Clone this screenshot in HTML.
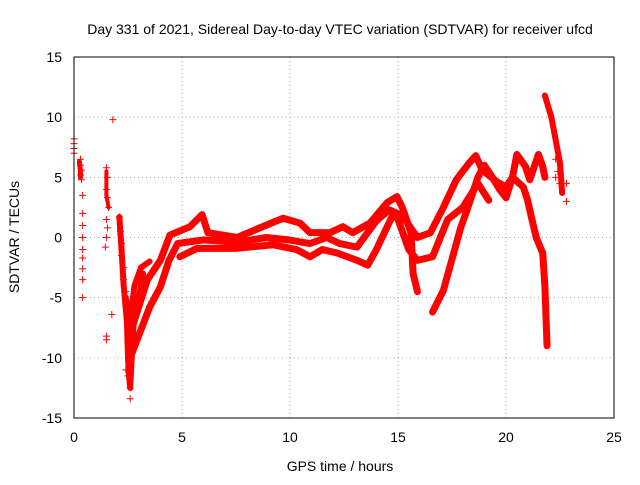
<!DOCTYPE html>
<html><head><meta charset="utf-8"><style>
body{margin:0;background:#fff;font-family:"Liberation Sans",sans-serif}
svg text{font-family:"Liberation Sans",sans-serif;font-size:14px;fill:#000}
</style></head><body>
<svg width="640" height="480">
<rect width="640" height="480" fill="#fff"/>
<g id="grid"></g>
<g id="series"></g>
<rect x="74" y="57" width="540" height="361" fill="none" stroke="#000"/>
<g id="ticks"></g>
<text x="340" y="34" text-anchor="middle">Day 331 of 2021, Sidereal Day-to-day VTEC variation (SDTVAR) for receiver ufcd</text>
<text x="340" y="471" text-anchor="middle">GPS time / hours</text>
<text transform="translate(19,237) rotate(-90)" text-anchor="middle">SDTVAR / TECUs</text>
</svg>
<script>
const xTicks=[0,5,10,15,20,25];
const yTicks=[-15,-10,-5,0,5,10,15];
const trackA=[[2.6,-8],[3.4,-3.5],[4,-1.9],[4.44,0.2],[5.37,0.9],[5.93,1.9],[6.2,0.4],[7.55,0],[8.6,0.8],[9.68,1.6],[10.46,1.2],[10.93,0.4],[11.85,0.4],[12.45,0.9],[12.9,0.4],[13.7,1.2],[14.5,2.9],[14.95,3.4],[15.2,2.5],[15.6,0.4],[15.7,-3],[15.9,-4.5]];
const trackB=[[2.6,-10],[3.5,-5.8],[4,-4.1],[4.4,-1.9],[4.8,-0.5],[6,-0.2],[7.55,-0.4],[8.9,0],[9.94,-0.2],[10.93,-0.5],[11.7,0],[12.3,-0.5],[13.1,-0.8],[14,1.4],[14.6,2.3],[15.2,1.8],[15.9,0],[16.5,0.4],[17.1,2.5],[17.7,4.8],[18.3,6.2],[18.6,6.8],[18.9,5.6],[19.6,4.6],[20,4.2],[20.3,5],[20.8,4.2],[21,3.1],[21.2,1.5],[21.4,0],[21.7,-1.3],[21.8,-4],[21.9,-9]];
const trackC=[[4.9,-1.6],[5.7,-0.9],[7.55,-0.9],[9.2,-0.6],[10.3,-1],[10.93,-1.6],[11.5,-1],[12.2,-1.3],[13.1,-1.9],[13.6,-2.3],[14,-1],[14.5,0.9],[14.8,2],[15,1.5],[15.5,-1],[15.9,-1.9],[16.6,-1.6],[17.3,1.5],[18,2.5],[18.7,4.5],[19.2,3.1]];
const trackD=[[16.6,-6.2],[17.1,-4.4],[17.9,0.8],[18.2,2.3],[18.7,5],[19,6],[19.3,5.2],[19.7,4],[20,3.3],[20.3,5],[20.5,6.9],[20.9,5.9],[21.1,4.8],[21.5,6.9],[21.7,5.9],[21.8,5]];
const trackE=[[21.8,11.8],[22.1,10],[22.3,8.1],[22.5,6.2],[22.6,3.7]];
const trackV=[[2.1,1.7],[2.2,-1],[2.3,-4],[2.45,-7],[2.5,-10],[2.55,-11.5],[2.6,-12.5],[2.7,-9],[2.8,-6],[3,-5],[3.2,-3]];
const trackV2=[[2.4,-5],[2.6,-7],[2.8,-4],[3.1,-2.5],[3.5,-2]];
const trackEarly=[[0.25,6.3],[0.3,5.5],[0.3,5]];
const trackEarly2=[[1.5,5.5],[1.5,3.5],[1.6,2.5]];
const scatterPts=[[0,8.2],[0,7.8],[0,7.4],[0,7],[0.3,6.5],[0.3,6],[0.35,5.6],[0.3,5.2],[0.35,4.8],[0.4,3.5],[0.4,2],[0.4,1],[0.4,0],[0.4,-1],[0.4,-1.7],[0.4,-2.6],[0.4,-3.5],[0.4,-5],[1.5,5.8],[1.55,5],[1.5,4],[1.55,3.3],[1.6,2.5],[1.5,1.5],[1.55,0.8],[1.5,0],[1.45,-0.8],[1.8,9.8],[1.75,-6.4],[1.5,-8.2],[1.5,-8.5],[2.1,1.7],[2.15,0.5],[2.2,-0.5],[2.2,-1.5],[2.3,-2.5],[2.3,-3.5],[2.4,-4.5],[2.4,-11],[2.5,-11.5],[2.6,-12.5],[2.6,-13.4],[2.7,-7],[22.3,6.5],[22.4,5.5],[22.5,4.5],[22.8,4.5],[22.8,3],[22.3,5]];
const sx=v=>74+v*540/25, sy=v=>237.5-v*361/30;
const NS="http://www.w3.org/2000/svg";
const grid=document.getElementById('grid'),ticks=document.getElementById('ticks'),ser=document.getElementById('series');
xTicks.forEach(t=>{
 if(t>0&&t<25){const l=document.createElementNS(NS,'line');
 l.setAttribute('x1',sx(t));l.setAttribute('x2',sx(t));l.setAttribute('y1',57);l.setAttribute('y2',418);
 l.setAttribute('stroke','#aaa');l.setAttribute('stroke-dasharray','1,3');
 
 
 grid.appendChild(l);}
 const tx=document.createElementNS(NS,'text');tx.setAttribute('x',sx(t));tx.setAttribute('y',442);tx.setAttribute('text-anchor','middle');tx.textContent=t;
 
 
 ticks.appendChild(tx);
});
yTicks.forEach(t=>{
 if(t>-15&&t<15){const l=document.createElementNS(NS,'line');
 l.setAttribute('x1',74);l.setAttribute('x2',614);l.setAttribute('y1',sy(t));l.setAttribute('y2',sy(t));
 l.setAttribute('stroke','#aaa');l.setAttribute('stroke-dasharray','1,3');
 
 
 grid.appendChild(l);}
 const tx=document.createElementNS(NS,'text');tx.setAttribute('x',62);tx.setAttribute('y',sy(t)+5);tx.setAttribute('text-anchor','end');tx.textContent=t;
 
 
 ticks.appendChild(tx);
});
function draw(arr,w,name){
 const p=document.createElementNS(NS,'polyline');
 p.setAttribute('points',arr.map(d=>sx(d[0])+','+sy(d[1])).join(' '));
 p.setAttribute('fill','none');p.setAttribute('stroke','#f00');p.setAttribute('stroke-width',w);
 p.setAttribute('stroke-linejoin','round');p.setAttribute('stroke-linecap','round');
 
 
 ser.appendChild(p);
}
function marks(arr){
 arr.forEach(d=>{const m=document.createElementNS(NS,'path');
  const x=sx(d[0]),y=sy(d[1]);
  m.setAttribute('d',`M${x-3.5},${y}H${x+3.5}M${x},${y-3.5}V${y+3.5}`);m.setAttribute('stroke','#f00');
  
  
  ser.appendChild(m);});
}
draw(trackA,7,'track-a');draw(trackB,7,'track-b');draw(trackC,7,'track-c');draw(trackD,7,'track-d');draw(trackE,6,'track-e');
draw(trackV,6,'track-v');draw(trackV2,6,'track-v2');draw(trackEarly,5,'track-early');draw(trackEarly2,4,'track-early-2');
marks(scatterPts);
</script>
</body></html>
